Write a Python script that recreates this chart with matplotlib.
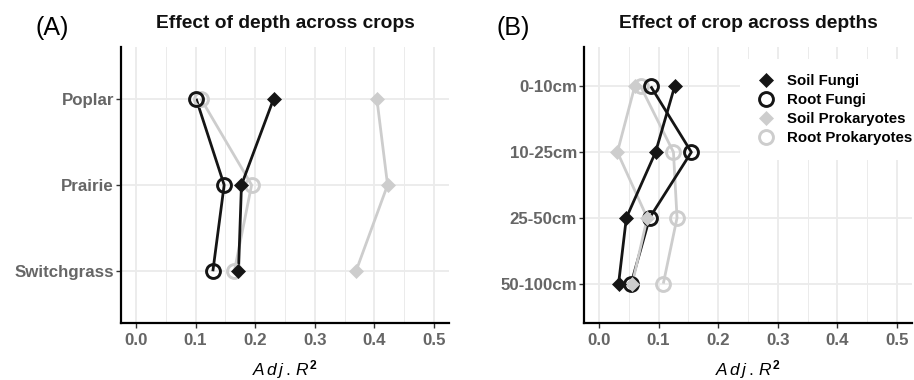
import matplotlib
matplotlib.use("Agg")
import matplotlib.pyplot as plt
import numpy as np
from matplotlib.lines import Line2D

plt.rcParams['font.family'] = ['Liberation Sans', 'DejaVu Sans']
plt.rcParams['mathtext.fontset'] = 'custom'
plt.rcParams['mathtext.rm'] = 'Liberation Sans'
plt.rcParams['mathtext.it'] = 'Liberation Sans:italic'
plt.rcParams['mathtext.bf'] = 'Liberation Sans:bold'

# ---- data ----
crops = ["Poplar", "Prairie", "Switchgrass"]
depths = ["0-10cm", "10-25cm", "25-50cm", "50-100cm"]
series = ["Soil Fungi", "Root Fungi", "Soil Prokaryotes", "Root Prokaryotes"]

# Panel A: effect of depth across crops (Adj. R^2)
a_soil_fungi = [0.231, 0.177, 0.172]
a_root_fungi = [0.101, 0.148, 0.129]
a_soil_prok = [0.404, 0.422, 0.369]
a_root_prok = [0.109, 0.194, 0.165]

# Panel B: effect of crop across depths (Adj. R^2)
b_soil_fungi = [0.127, 0.095, 0.046, 0.033]
b_root_fungi = [0.087, 0.155, 0.085, 0.054]
b_soil_prok = [0.060, 0.031, 0.081, 0.056]
b_root_prok = [0.070, 0.125, 0.131, 0.108]

x_ticks = [0.0, 0.1, 0.2, 0.3, 0.4, 0.5]
x_tick_labels = ["0.0", "0.1", "0.2", "0.3", "0.4", "0.5"]

BLACK = "#151515"
GREY = "#cdcdcd"
styles = {
    "Soil Fungi": dict(color=BLACK, marker="D", mfc=BLACK, mec=BLACK, ms=7.0, mew=0.5),
    "Root Fungi": dict(color=BLACK, marker="o", mfc="none", mec=BLACK, ms=10, mew=2.1),
    "Soil Prokaryotes": dict(color=GREY, marker="D", mfc=GREY, mec=GREY, ms=7.0, mew=0.5),
    "Root Prokaryotes": dict(color=GREY, marker="o", mfc="none", mec=GREY, ms=10, mew=2.1),
}
draw_order = ["Root Prokaryotes", "Root Fungi", "Soil Prokaryotes", "Soil Fungi"]

fig = plt.figure(figsize=(9.14, 3.8), dpi=100)
W, H = 914, 380

def px_axes(l, r, t, b):
    return fig.add_axes([l / W, 1 - b / H, (r - l) / W, (b - t) / H])

axA = px_axes(121, 449, 47, 323)
axB = px_axes(584, 912, 47, 323)

def style_axis(ax, cats, title):
    n = len(cats)
    ax.set_xlim(-0.025, 0.525)
    ax.set_ylim(n - 1 + 0.6, -0.6)
    ax.set_yticks(range(n))
    ax.set_yticklabels(cats)
    ax.set_xticks(x_ticks)
    ax.set_xticklabels(x_tick_labels)
    ax.set_xticks(np.array(x_ticks[:-1]) + 0.05, minor=True)
    ax.grid(which="major", axis="both", color="#ebebeb", lw=1.3, zorder=0)
    ax.grid(which="minor", axis="x", color="#ebebeb", lw=0.7, zorder=0)
    ax.set_axisbelow(True)
    for s in ["top", "right"]:
        ax.spines[s].set_visible(False)
    for s in ["left", "bottom"]:
        ax.spines[s].set_linewidth(1.6)
        ax.spines[s].set_color("black")
    ax.tick_params(which="major", length=3.5, width=1.0, color="#333333",
                   labelcolor="#666666", labelsize=12.2)
    ax.tick_params(axis="x", which="major", pad=4)
    ax.tick_params(axis="y", which="major", pad=1.5)
    ax.tick_params(which="minor", length=0)
    for lab in ax.get_xticklabels() + ax.get_yticklabels():
        lab.set_fontweight("bold")
    ax.set_title(title, fontsize=13.8, fontweight="bold", pad=14, color="#111111")
    ax.set_xlabel(r"$A\,d\,j\,.\,R^{\mathbf{2}}$", fontsize=12.5, labelpad=7, color="black")
    ax.set_facecolor("white")

def draw(ax, data):
    ypos = np.arange(len(next(iter(data.values()))))
    for name in draw_order:
        st = styles[name]
        ax.plot(data[name], ypos, color=st["color"], lw=2.0, zorder=2,
                solid_capstyle="butt")
    for name in draw_order:
        st = styles[name]
        ax.plot(data[name], ypos, ls="none", marker=st["marker"], ms=st["ms"],
                mfc=st["mfc"], mec=st["mec"], mew=st["mew"], zorder=3)

style_axis(axA, crops, "Effect of depth across crops")
style_axis(axB, depths, "Effect of crop across depths")

draw(axA, {"Soil Fungi": a_soil_fungi, "Root Fungi": a_root_fungi,
           "Soil Prokaryotes": a_soil_prok, "Root Prokaryotes": a_root_prok})
draw(axB, {"Soil Fungi": b_soil_fungi, "Root Fungi": b_root_fungi,
           "Soil Prokaryotes": b_soil_prok, "Root Prokaryotes": b_root_prok})

handles = []
for name in series:
    st = styles[name]
    handles.append(Line2D([], [], ls="none", marker=st["marker"], ms=st["ms"],
                          mfc=st["mfc"], mec=st["mec"], mew=st["mew"]))
leg = axB.legend(handles, series, loc="upper left",
                 bbox_to_anchor=(740 / W, 1 - 59 / H), bbox_transform=fig.transFigure,
                 frameon=True, facecolor="white", edgecolor="none", framealpha=1,
                 fancybox=False, prop=dict(weight="bold", size=10.8),
                 labelspacing=0.34, handletextpad=0.75, borderpad=1.0,
                 handlelength=1.4, borderaxespad=0)
leg.set_zorder(5)

fig.text(52 / W, 1 - 28 / H, "(A)", fontsize=18, ha="center", va="center")
fig.text(513 / W, 1 - 28 / H, "(B)", fontsize=18, ha="center", va="center")

fig.savefig("out.png", dpi=100, facecolor="white")
